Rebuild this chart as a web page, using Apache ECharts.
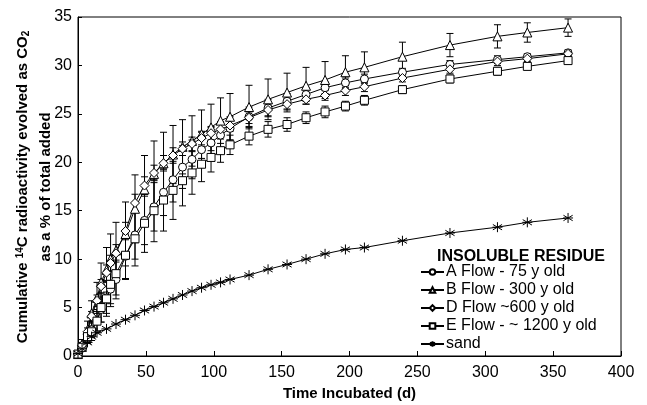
<!DOCTYPE html>
<html>
<head>
<meta charset="utf-8">
<script src="https://cdn.jsdelivr.net/npm/echarts@6/dist/echarts.min.js"></script>
<style>
  html, body { margin: 0; padding: 0; background: #fff; }
  #chart { width: 647px; height: 405px; }
</style>
</head>
<body>
<div id="chart"></div>
<script>
// sampling days (d) for the four insoluble residue series
var days = [0, 3, 7, 10, 14, 17, 21, 24, 28, 35, 42, 49, 56, 63, 70, 77, 84, 91, 98, 105, 112,
            126, 140, 154, 168, 182, 197, 211, 239, 274, 309, 331, 361];
var sandDays = [0, 3, 7, 10, 14, 21, 28, 35, 42, 49, 56, 63, 70, 77, 84, 91, 98, 105, 112,
                126, 140, 154, 168, 182, 197, 211, 239, 274, 309, 331, 361];

var names = ['A Flow - 75 y old', 'B Flow - 300 y old', 'D Flow ~600 y old', 'E Flow - ~ 1200 y old', 'sand'];

var flowA = [0.2, 0.8, 1.8, 2.7, 3.6, 4.8, 6.0, 6.9, 7.9, 10.3, 12.5, 14.0, 15.4, 16.9, 18.2, 19.5, 20.3, 21.3, 22.0, 22.8, 23.5,
             24.7, 25.6, 26.3, 27.0, 27.7, 28.2, 28.6, 29.3, 30.1, 30.6, 30.9, 31.3];
var flowB = [0.2, 1.2, 2.7, 4.4, 6.0, 7.6, 8.9, 10.0, 10.9, 12.6, 15.2, 17.2, 18.8, 19.9, 20.8, 21.6, 22.2, 22.9, 23.6, 24.3, 24.7,
             25.7, 26.5, 27.2, 27.9, 28.5, 29.3, 29.8, 30.9, 32.1, 33.0, 33.4, 33.9];
var flowD = [0.2, 1.1, 2.5, 4.1, 5.7, 7.2, 8.6, 9.6, 10.6, 12.9, 15.8, 17.6, 18.9, 19.9, 20.7, 21.4, 21.9, 22.5, 23.0, 23.4, 23.8,
             24.6, 25.4, 26.0, 26.5, 26.9, 27.4, 27.8, 28.7, 29.6, 30.4, 30.7, 31.2];
var flowE = [0.2, 0.9, 2.0, 2.5, 3.6, 5.0, 5.9, 7.4, 8.5, 10.4, 12.1, 13.7, 15.0, 16.1, 17.1, 18.1, 18.9, 19.8, 20.5, 21.2, 21.8,
             22.7, 23.4, 23.9, 24.6, 25.2, 25.8, 26.4, 27.5, 28.6, 29.4, 29.9, 30.5];
var sand  = [0.25, 0.75, 1.4, 2.0, 2.4, 2.8, 3.3, 3.75, 4.2, 4.7, 5.1, 5.5, 5.9, 6.3, 6.7, 7.05, 7.35, 7.6, 7.9,
             8.35, 8.95, 9.45, 10.0, 10.55, 11.0, 11.2, 11.9, 12.7, 13.3, 13.8, 14.25];

// error bar half-widths (+/-)
var errA = [0.1, 0.3, 0.5, 0.8, 1.0, 1.3, 1.6, 1.8, 2.0, 2.3, 2.5, 2.5, 2.5, 2.4, 2.3, 2.2, 2.0, 1.8, 1.6, 1.4, 1.2,
            1.0, 0.9, 0.8, 0.7, 0.6, 0.5, 0.5, 0.4, 0.4, 0.4, 0.3, 0.3];
var errB = [0.1, 0.5, 0.9, 1.3, 1.6, 2.0, 2.3, 2.6, 2.9, 3.3, 3.5, 3.5, 3.4, 3.2, 3.0, 2.8, 2.6, 2.5, 2.4, 2.35, 2.4,
            2.25, 2.1, 2.0, 1.9, 1.9, 1.7, 1.6, 1.5, 1.2, 1.2, 1.0, 0.9];
var errD = [0.1, 0.3, 0.4, 0.5, 0.6, 0.7, 0.8, 0.8, 0.9, 0.9, 0.9, 0.9, 0.8, 0.8, 0.8, 0.7, 0.7, 0.7, 0.7, 0.7, 0.6,
            0.6, 0.6, 0.6, 0.5, 0.5, 0.5, 0.5, 0.4, 0.4, 0.4, 0.3, 0.3];
var errE = [0.1, 0.3, 0.6, 0.9, 1.2, 1.5, 1.8, 2.0, 2.2, 2.5, 2.8, 3.0, 3.2, 3.2, 3.0, 2.6, 2.2, 1.8, 1.5, 1.2, 1.0,
            0.9, 0.8, 0.7, 0.6, 0.6, 0.5, 0.5, 0.4, 0.4, 0.4, 0.3, 0.3];

var FONT = '"Liberation Sans", Arial, sans-serif';
var asterisk = 'path://M0,-5L0,5M-4.6,-2.7L4.6,2.7M-4.6,2.7L4.6,-2.7M-5,0L5,0';

function pairs(xs, ys) {
  return xs.map(function (x, i) { return [x, ys[i]]; });
}

function lineSeries(name, xs, ys, symbol, size) {
  return {
    name: name,
    type: 'line',
    data: pairs(xs, ys),
    symbol: symbol,
    symbolSize: size,
    z: 3,
    lineStyle: { color: '#000', width: 1 },
    itemStyle: { color: symbol === asterisk ? '#000' : '#fff', borderColor: '#000', borderWidth: 1 },
    emphasis: { disabled: true }
  };
}

function errSeries(id, ys, errs) {
  return {
    name: id,
    type: 'custom',
    z: 2,
    silent: true,
    data: days.map(function (d, i) { return [d, ys[i] - errs[i], ys[i] + errs[i]]; }),
    renderItem: function (params, api) {
      var lo = api.coord([api.value(0), api.value(1)]);
      var hi = api.coord([api.value(0), api.value(2)]);
      var w = 3.5, st = { stroke: '#000', lineWidth: 1 };
      return {
        type: 'group',
        children: [
          { type: 'line', shape: { x1: lo[0], y1: lo[1], x2: hi[0], y2: hi[1] }, style: st },
          { type: 'line', shape: { x1: hi[0] - w, y1: hi[1], x2: hi[0] + w, y2: hi[1] }, style: st },
          { type: 'line', shape: { x1: lo[0] - w, y1: lo[1], x2: lo[0] + w, y2: lo[1] }, style: st }
        ]
      };
    }
  };
}

var myChart = echarts.init(document.getElementById('chart'));

var option = {
  animation: false,
  backgroundColor: '#fff',
  textStyle: { fontFamily: FONT },
  grid: { left: 78, right: 26, top: 17, bottom: 49, outerBoundsMode: 'none',
          show: true, borderColor: '#000', borderWidth: 1 },
  title: {
    text: 'INSOLUBLE RESIDUE',
    left: 432, top: 244,
    textStyle: { fontFamily: FONT, fontSize: 16, fontWeight: 'bold', color: '#000' }
  },
  legend: {
    data: names,
    orient: 'vertical',
    left: 420, top: 264,
    itemWidth: 23, itemHeight: 7, itemGap: 2,
    textStyle: { fontFamily: FONT, fontSize: 16, color: '#000', lineHeight: 16, padding: [0, 0, 0, -3] },
    padding: 0
  },
  xAxis: {
    type: 'value', min: 0, max: 400, interval: 50,
    axisLine: { lineStyle: { color: '#000', width: 1 } },
    axisTick: { inside: true, length: 5, lineStyle: { color: '#000' } },
    axisLabel: { color: '#000', fontSize: 16, fontFamily: FONT, margin: 9 },
    splitLine: { show: false },
    name: 'Time Incubated (d)', nameLocation: 'middle', nameGap: 30,
    nameTextStyle: { color: '#000', fontSize: 15, fontWeight: 'bold', fontFamily: FONT }
  },
  yAxis: {
    type: 'value', min: 0, max: 35, interval: 5,
    axisLine: { lineStyle: { color: '#000', width: 1 } },
    axisTick: { inside: true, length: 4, lineStyle: { color: '#000' } },
    axisLabel: { color: '#000', fontSize: 16, fontFamily: FONT, margin: 6 },
    splitLine: { show: false }
  },
  graphic: [
    {
      type: 'text', x: 23, y: 187, rotation: Math.PI / 2,
      style: {
        text: '{b|Cumulative }{s|14}{b|C radioactivity evolved as CO}{d|2}',
        align: 'center', verticalAlign: 'middle', fill: '#000',
        rich: {
          b: { fontFamily: FONT, fontSize: 15, fontWeight: 'bold' },
          s: { fontFamily: FONT, fontSize: 10, fontWeight: 'bold', verticalAlign: 'top', padding: [0, 0, 6, 0] },
          d: { fontFamily: FONT, fontSize: 10, fontWeight: 'bold', verticalAlign: 'bottom', padding: [6, 0, 0, 0] }
        }
      }
    },
    {
      type: 'text', x: 46, y: 187, rotation: Math.PI / 2,
      style: {
        text: 'as a % of total added',
        align: 'center', verticalAlign: 'middle', fill: '#000',
        font: 'bold 15px ' + FONT
      }
    }
  ],
  series: [
    errSeries('errA', flowA, errA),
    errSeries('errB', flowB, errB),
    errSeries('errD', flowD, errD),
    errSeries('errE', flowE, errE),
    lineSeries(names[0], days, flowA, 'circle', 8),
    lineSeries(names[1], days, flowB, 'triangle', 9),
    lineSeries(names[2], days, flowD, 'diamond', 9),
    lineSeries(names[3], days, flowE, 'rect', 8),
    lineSeries(names[4], sandDays, sand, asterisk, 10)
  ]
};

myChart.setOption(option);
</script>
</body>
</html>
